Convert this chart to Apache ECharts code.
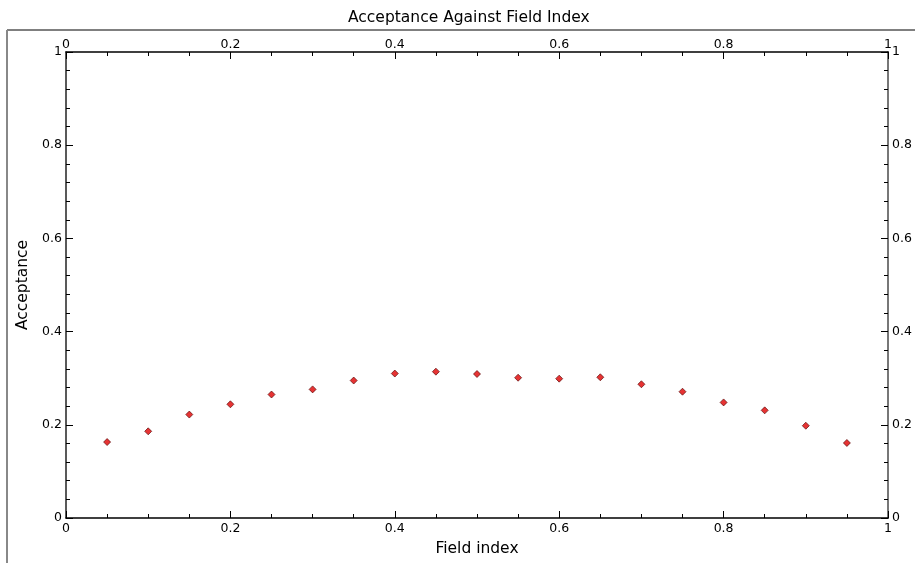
<!DOCTYPE html>
<html>
<head>
<meta charset="utf-8">
<script src="https://cdn.jsdelivr.net/npm/echarts@6/dist/echarts.min.js"></script>
<style>
  html, body { margin: 0; padding: 0; background: #fff; }
  #chart { width: 915px; height: 563px; }
</style>
</head>
<body>
<div id="chart"></div>
<script>
// field index (x) and acceptance (y)
var fieldIndex = [0.05, 0.1, 0.15, 0.2, 0.25, 0.3, 0.35, 0.4, 0.45, 0.5,
                  0.55, 0.6, 0.65, 0.7, 0.75, 0.8, 0.85, 0.9, 0.95];
var acceptance = [0.163, 0.186, 0.222, 0.244, 0.265, 0.276, 0.295, 0.310, 0.314, 0.309,
                  0.301, 0.299, 0.302, 0.287, 0.271, 0.248, 0.231, 0.198, 0.161];

var points = fieldIndex.map(function (x, i) { return [x, acceptance[i]]; });

var font = 'DejaVu Sans';

function xAxisCfg(pos, showName, margin) {
    return {
        type: 'value', position: pos, min: 0, max: 1, interval: 0.2,
        name: showName ? 'Field index' : '', nameLocation: 'middle', nameGap: 23,
        nameTextStyle: { fontFamily: font, fontSize: 15.5, color: '#000' },
        axisLine: { show: true, onZero: false, lineStyle: { color: '#000', width: 1.5 } },
        axisTick: { show: true, inside: true, length: 7, lineStyle: { color: '#000' } },
        minorTick: { show: true, splitNumber: 4, length: 4, lineStyle: { color: '#000' } },
        axisLabel: { fontFamily: font, fontSize: 12.5, color: '#000', margin: margin },
        splitLine: { show: false }
    };
}

function yAxisCfg(pos, showName, lineColor, lineWidth) {
    return {
        type: 'value', position: pos, min: 0, max: 1, interval: 0.2,
        name: showName ? 'Acceptance' : '', nameLocation: 'middle', nameGap: 35,
        nameTextStyle: { fontFamily: font, fontSize: 15.5, color: '#000' },
        axisLine: { show: true, onZero: false, lineStyle: { color: lineColor, width: lineWidth } },
        axisTick: { show: true, inside: true, length: 7, lineStyle: { color: '#000' } },
        minorTick: { show: true, splitNumber: 5, length: 4, lineStyle: { color: '#000' } },
        axisLabel: { fontFamily: font, fontSize: 12.5, color: '#000', margin: 4 },
        splitLine: { show: false }
    };
}

var option = {
    backgroundColor: '#fff',
    animation: false,
    title: {
        text: 'Acceptance Against Field Index',
        left: 343, top: 5,
        textStyle: { fontFamily: font, fontSize: 15.5, fontWeight: 'normal', color: '#000' }
    },
    grid: { left: 66, right: 27, top: 52, bottom: 45, outerBoundsMode: 'none' },
    xAxis: [xAxisCfg('bottom', true, 4), xAxisCfg('top', false, 1)],
    yAxis: [yAxisCfg('left', true, '#222', 1.5), yAxisCfg('right', false, '#777', 2)],
    graphic: [
        { type: 'line', shape: { x1: 7, y1: 30, x2: 915, y2: 30 },
          style: { stroke: '#000', lineWidth: 1 }, silent: true },
        { type: 'line', shape: { x1: 7, y1: 30, x2: 7, y2: 563 },
          style: { stroke: '#888', lineWidth: 2 }, silent: true }
    ],
    series: [{
        type: 'scatter',
        xAxisIndex: 0, yAxisIndex: 0,
        symbol: 'diamond', symbolSize: 7,
        itemStyle: { color: '#e00000', borderColor: '#500000', borderWidth: 0.8 },
        data: points
    }]
};

var myChart = echarts.init(document.getElementById('chart'));
myChart.setOption(option, true);
</script>
</body>
</html>
